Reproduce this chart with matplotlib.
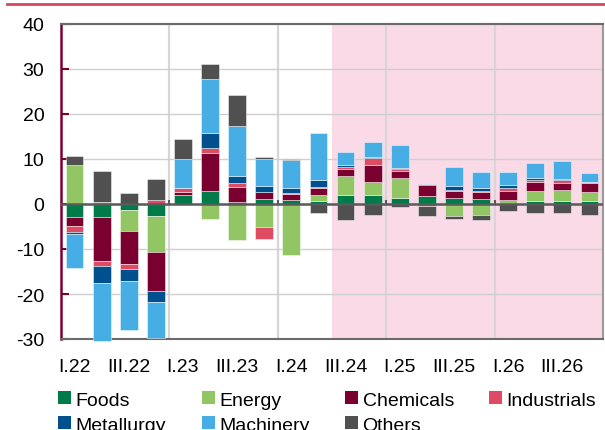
import numpy as np
import matplotlib
matplotlib.use("Agg")
import matplotlib.pyplot as plt
from matplotlib.patches import Patch
from matplotlib.lines import Line2D

plt.rcParams['font.family'] = ['Liberation Sans', 'DejaVu Sans']
plt.rcParams['axes.unicode_minus'] = False

# Quarterly contributions by sector (percentage points)
quarters = ["I.22", "II.22", "III.22", "IV.22",
            "I.23", "II.23", "III.23", "IV.23",
            "I.24", "II.24", "III.24", "IV.24",
            "I.25", "II.25", "III.25", "IV.25",
            "I.26", "II.26", "III.26", "IV.26"]

foods       = [-2.8, -2.8, -1.3, -2.7, 2.1, 3.0, 0.5, 1.1, 1.0, 0.7,
               2.0, 1.9, 1.4, 1.8, 1.3, 1.1, 0.0, 0.7, 0.7, 0.7]
energy      = [8.7, 0.5, -4.8, -7.9, 0.0, -3.3, -8.1, -5.0, -11.3, 1.2,
               4.2, 3.1, 4.3, 0.0, -2.7, -2.5, 1.0, 2.3, 2.5, 2.0]
chemicals   = [-2.1, -9.9, -7.2, -8.8, 0.5, 8.4, 3.3, 1.6, 1.2, 1.6,
               1.6, 3.6, 1.7, 2.4, 1.5, 1.6, 2.0, 2.0, 1.5, 1.9]
industrials = [-1.4, -1.0, -1.1, 0.8, 1.0, 1.1, 0.8, -2.7, 0.3, 0.3,
               0.4, 1.6, 0.4, -0.4, 0.4, 0.15, 0.5, 0.4, 0.6, 0.2]
metallurgy  = [-0.45, -3.8, -2.7, -2.4, 0.0, 3.3, 1.6, 1.2, 1.1, 1.6,
               0.4, 0.3, 0.3, 0.2, 0.7, 0.7, 0.7, 0.4, 0.2, 0.0]
machinery   = [-7.4, -13.0, -10.8, -7.9, 6.4, 11.9, 11.1, 6.1, 6.1, 10.4,
               3.0, 3.3, 5.0, 0.0, 4.3, 3.5, 3.0, 3.4, 4.0, 2.1]
others      = [1.9, 6.9, 2.4, 4.8, 4.5, 3.5, 7.0, 0.5, 0.4, -2.1,
               -3.6, -2.4, -0.7, -2.2, -0.7, -1.0, -1.6, -2.1, -2.1, -2.4]

sector_names = ["Foods", "Energy", "Chemicals", "Industrials",
                "Metallurgy", "Machinery", "Others"]
sector_values = [foods, energy, chemicals, industrials,
                 metallurgy, machinery, others]
sector_colors = ["#007A48", "#92C664", "#7A0030", "#DE4B63",
                 "#00508E", "#46AEE5", "#505050"]

tick_labels = quarters[::2]
forecast_start = "III.24"

fig = plt.figure(figsize=(6.05, 4.31), dpi=100)
ax = fig.add_axes([61 / 605, 1 - 340 / 431, 542 / 605, 315 / 431])

x = np.arange(len(quarters))
pos_base = np.zeros(len(quarters))
neg_base = np.zeros(len(quarters))

# forecast shading
fs = quarters.index(forecast_start)
ax.axvspan(fs - 0.5, len(quarters) - 0.5, color="#FADAE6", zorder=0, lw=0)

for name, vals, col in zip(sector_names, sector_values, sector_colors):
    v = np.array(vals, dtype=float)
    base = np.where(v >= 0, pos_base, neg_base)
    ax.bar(x, v, bottom=base, width=0.66, color=col,
           edgecolor=(1, 1, 1, 0.55), linewidth=0.6, zorder=3, clip_on=False)
    pos_base += np.where(v > 0, v, 0)
    neg_base += np.where(v < 0, v, 0)

ax.set_xlim(-0.5, len(quarters) - 0.5)
ax.set_ylim(-30, 40)
ax.set_yticks(np.arange(-30, 41, 10))

# grid: horizontal every 10, vertical at year boundaries
ax.grid(axis="y", color="#CFCFCF", lw=1.0, zorder=1)
year_bounds = np.arange(3.5, len(quarters) - 1, 4)
for b in year_bounds:
    ax.axvline(b, color="#D6D6D6", lw=1.6, zorder=1)

# zero line with small year ticks
ax.axhline(0, color="#5A5A5A", lw=1.8, zorder=4)
ax.vlines(year_bounds, 0, 1.0, color="#5A5A5A", lw=1.5, zorder=4)

ax.set_xticks(x[::2])
ax.set_xticklabels(tick_labels)
ax.tick_params(axis="x", length=0, pad=14, labelsize=14)
ax.tick_params(axis="y", direction="in", length=6, width=1.5,
               color="#7A0030", labelsize=14, pad=12)

for s in ["top", "right", "bottom"]:
    ax.spines[s].set_color("#6A6A6A")
    ax.spines[s].set_linewidth(1.5)
ax.spines["right"].set_color("#9A9A9A")
ax.spines["left"].set_color("#7A0030")
ax.spines["left"].set_linewidth(1.8)

# header rule
fig.add_artist(Line2D([7 / 605, 1.0], [1 - 5 / 431, 1 - 5 / 431],
                      color="#D6465F", lw=2.0, transform=fig.transFigure))

# legend laid out in four columns, two rows
col_x = [58, 202, 345, 489]
row_y = [393, 418]
for i, (name, col) in enumerate(zip(sector_names, sector_colors)):
    r, c = divmod(i, 4)
    fig.legend(handles=[Patch(facecolor=col, edgecolor="none")], labels=[name],
               loc="center left",
               bbox_to_anchor=(col_x[c] / 605, 1 - (row_y[r] + 8) / 431),
               frameon=False, fontsize=14, handlelength=0.65, handleheight=0.65,
               handletextpad=0.25, borderpad=0, borderaxespad=0)

fig.savefig("out.png", dpi=100)
